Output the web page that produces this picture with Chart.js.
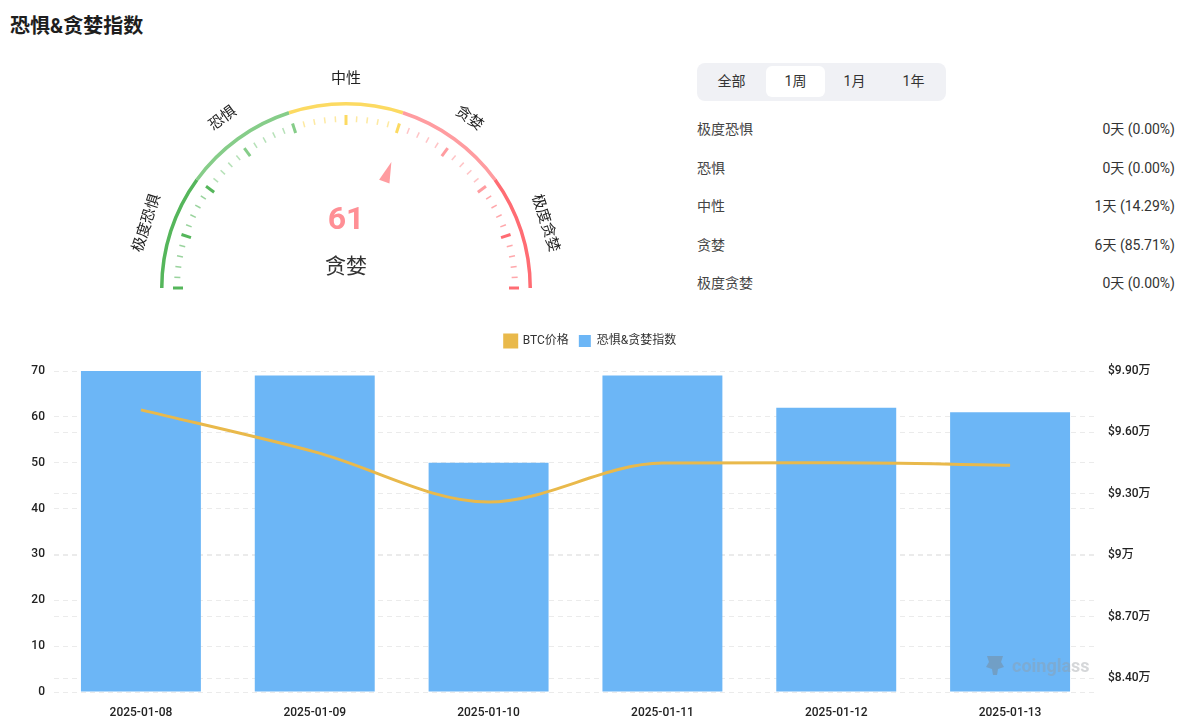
<!DOCTYPE html>
<html>
<head>
<meta charset="utf-8">
<script src="https://cdn.jsdelivr.net/npm/chart.js@4.4.1/dist/chart.umd.min.js"></script>
<style>
  body { margin: 0; width: 1181px; height: 720px; background: #fff; position: relative; overflow: hidden;
    font-family: Roboto, "Noto Sans CJK SC", sans-serif; color: #333; }
  .title { position: absolute; left: 10px; top: 12px; font-size: 20px; font-weight: 700; color: #1e1e1e; line-height: 28px; }
  .gauge { position: absolute; left: 46px; top: 55px; width: 600px; height: 280px; }
  .tabs { position: absolute; left: 697px; top: 63px; width: 249px; height: 38px; background: #f0f1f5; border-radius: 8px; }
  .tab { position: absolute; top: 3px; width: 59px; height: 31px; line-height: 31px; text-align: center; font-size: 14px; color: #333; border-radius: 6px; }
  .tab.on { background: #fff; }
  .row { position: absolute; left: 697px; width: 478px; height: 20px; line-height: 20px; font-size: 14px; }
  .row .k { position: absolute; left: 0; color: #444; }
  .row .v { position: absolute; right: 0; color: #333; }
  .main { position: absolute; left: 0; top: 325px; width: 1181px; height: 395px; }
  .mark { position: absolute; left: 983px; top: 653px; height: 24px; display: flex; align-items: center; gap: 5px;
    font-size: 18px; font-weight: 700; color: rgba(150,155,160,0.4); }
</style>
</head>
<body>
<div class="title">恐惧&amp;贪婪指数</div>
<div class="gauge"><canvas id="gauge"></canvas></div>
<div class="tabs" id="tabs"></div>
<div id="table"></div>
<div class="main"><canvas id="main"></canvas></div>
<div class="mark"><svg width="24" height="24" viewBox="0 0 24 24"><path d="M4 3h16l-2 6 3 5-6 2-1 6h-4l-1-6-6-2 3-5z" fill="rgba(120,130,140,0.45)"/></svg><span>coinglass</span></div>
<script>
// gauge
const zoneNames = ['极度恐惧', '恐惧', '中性', '贪婪', '极度贪婪'];
const zoneSizes = [20, 20, 20, 20, 20];
const zoneColors = ['#55b65b', '#86cd89', '#fcda62', '#ff9ca0', '#ff6c73'];
const currentValue = 61;
const currentName = '贪婪';

// range buttons + day counts per zone
const tabNames = ['全部', '1周', '1月', '1年'];
const activeTab = 1;
const zoneDays = [0, 0, 1, 6, 0];
const zonePercents = ['0.00%', '0.00%', '14.29%', '85.71%', '0.00%'];

// history chart
const dates = ['2025-01-08', '2025-01-09', '2025-01-10', '2025-01-11', '2025-01-12', '2025-01-13'];
const fearGreed = [70, 69, 50, 69, 62, 61];
const btcPrice = [97100, 95050, 92600, 94500, 94520, 94400];
const indexTicks = [0, 10, 20, 30, 40, 50, 60, 70];
const priceTicks = [84000, 87000, 90000, 93000, 96000, 99000];

const FONT = 'Roboto, "Noto Sans CJK SC", sans-serif';
Chart.defaults.font.family = FONT;
Chart.defaults.color = '#333';

const tabsEl = document.getElementById('tabs');
const tabLeft = [5, 69, 128, 187];
tabNames.forEach((t, i) => {
  const d = document.createElement('div');
  d.className = 'tab' + (i === activeTab ? ' on' : '');
  d.style.left = tabLeft[i] + 'px';
  d.textContent = t;
  tabsEl.appendChild(d);
});

const tableEl = document.getElementById('table');
zoneNames.forEach((n, i) => {
  const r = document.createElement('div');
  r.className = 'row';
  r.style.top = (119 + i * 38.5) + 'px';
  r.innerHTML = '<span class="k">' + n + '</span><span class="v">' + zoneDays[i] + '天 (' + zonePercents[i] + ')</span>';
  tableEl.appendChild(r);
});

function zoneIndexOf(v) {
  let acc = 0;
  for (let i = 0; i < zoneSizes.length; i++) {
    acc += zoneSizes[i];
    if (v <= acc) return i;
  }
  return zoneSizes.length - 1;
}

function withAlpha(hex, a) {
  const n = parseInt(hex.slice(1), 16);
  return 'rgba(' + (n >> 16) + ',' + ((n >> 8) & 255) + ',' + (n & 255) + ',' + a + ')';
}

const gaugeDecor = {
  id: 'gaugeDecor',
  afterDatasetsDraw(chart) {
    const arcs = chart.getDatasetMeta(0).data;
    const first = arcs[0];
    const last = arcs[arcs.length - 1];
    const cx = first.x, cy = first.y, R = first.outerRadius;
    const a0 = first.startAngle, a1 = last.endAngle;
    const total = zoneSizes.reduce((s, v) => s + v, 0);
    const angleOf = v => a0 + (a1 - a0) * v / total;
    const ctx = chart.ctx;
    ctx.save();

    // ticks
    for (let v = 0; v <= total; v += 2) {
      const major = v % 10 === 0;
      const a = angleOf(v);
      const col = zoneColors[zoneIndexOf(v)];
      const r1 = major ? R - 23 : R - 20;
      const r2 = major ? R - 13 : R - 14;
      ctx.beginPath();
      ctx.moveTo(cx + Math.cos(a) * r1, cy + Math.sin(a) * r1);
      ctx.lineTo(cx + Math.cos(a) * r2, cy + Math.sin(a) * r2);
      ctx.strokeStyle = major ? col : withAlpha(col, 0.6);
      ctx.lineWidth = major ? 3 : 1.5;
      ctx.stroke();
    }

    // zone labels
    ctx.font = '15px ' + FONT;
    ctx.fillStyle = '#222';
    ctx.textAlign = 'center';
    ctx.textBaseline = 'middle';
    let acc = 0;
    zoneNames.forEach((name, i) => {
      const a = angleOf(acc + zoneSizes[i] / 2);
      acc += zoneSizes[i];
      const lr = R + 23;
      ctx.save();
      ctx.translate(cx + Math.cos(a) * lr, cy + Math.sin(a) * lr);
      ctx.rotate(a + Math.PI / 2);
      ctx.fillText(name, 0, 0);
      ctx.restore();
    });

    // pointer
    const pa = angleOf(currentValue);
    const pc = zoneColors[zoneIndexOf(currentValue)];
    const tip = R - 52, base = R - 73, hw = 5.5;
    const px = Math.cos(pa), py = Math.sin(pa);
    ctx.beginPath();
    ctx.moveTo(cx + px * tip, cy + py * tip);
    ctx.lineTo(cx + px * base - py * hw, cy + py * base + px * hw);
    ctx.lineTo(cx + px * base + py * hw, cy + py * base - px * hw);
    ctx.closePath();
    ctx.fillStyle = pc;
    ctx.fill();

    // value
    ctx.fillStyle = '#ff8f95';
    ctx.font = '700 32px ' + FONT;
    ctx.fillText(String(currentValue), cx, cy - 67);
    ctx.fillStyle = '#333';
    ctx.font = '21px ' + FONT;
    ctx.fillText(currentName, cx, cy - 20);
    ctx.restore();
  }
};

new Chart(document.getElementById('gauge'), {
  type: 'doughnut',
  data: {
    labels: zoneNames,
    datasets: [{
      data: zoneSizes,
      backgroundColor: zoneColors,
      borderWidth: 0
    }]
  },
  options: {
    responsive: true,
    maintainAspectRatio: false,
    animation: false,
    rotation: -90,
    circumference: 180,
    radius: 186,
    cutout: '98.1%',
    layout: { padding: 0 },
    plugins: { legend: { display: false }, tooltip: { enabled: false } }
  },
  plugins: [gaugeDecor]
});

function wan(v) {
  if (v % 10000 === 0) return '$' + (v / 10000) + '万';
  return '$' + (v / 10000).toFixed(2) + '万';
}

const legendGap = {
  id: 'legendGap',
  beforeInit(chart) {
    const fit = chart.legend.fit;
    chart.legend.fit = function () {
      fit.bind(chart.legend)();
      this.height += 14;
    };
  }
};

new Chart(document.getElementById('main'), {
  type: 'bar',
  data: {
    labels: dates,
    datasets: [
      {
        type: 'line',
        label: 'BTC价格',
        data: btcPrice,
        yAxisID: 'y1',
        borderColor: '#e9b94b',
        backgroundColor: '#e9b94b',
        borderWidth: 3,
        pointRadius: 0,
        cubicInterpolationMode: 'monotone',
        fill: false,
        order: 0
      },
      {
        label: '恐惧&贪婪指数',
        data: fearGreed,
        yAxisID: 'y',
        backgroundColor: '#6cb6f6',
        borderWidth: 0,
        categoryPercentage: 1,
        barPercentage: 0.69,
        order: 1
      }
    ]
  },
  options: {
    responsive: true,
    maintainAspectRatio: false,
    animation: false,
    layout: { padding: { top: 0 } },
    plugins: {
      legend: {
        labels: {
          boxWidth: 12,
          boxHeight: 12,
          padding: 10,
          color: '#333',
          font: { size: 12 }
        }
      },
      tooltip: { enabled: false }
    },
    scales: {
      x: {
        grid: { display: false },
        border: { display: false },
        ticks: { color: '#222', font: { size: 12, weight: '500' }, padding: 6 },
        afterFit(scale) { scale.height = 28; }
      },
      y: {
        position: 'left',
        min: 0,
        max: 70,
        afterBuildTicks(scale) { scale.ticks = indexTicks.map(v => ({ value: v })); },
        grid: { color: '#ebebeb', lineWidth: 1, tickLength: 0 },
        border: { display: false, dash: [5, 4] },
        ticks: { color: '#222', font: { size: 12, weight: '500' }, padding: 9 },
        afterFit(scale) { scale.width = 54; }
      },
      y1: {
        position: 'right',
        min: 83320,
        max: 99000,
        afterBuildTicks(scale) { scale.ticks = priceTicks.map(v => ({ value: v })); },
        grid: { color: '#ebebeb', lineWidth: 1, tickLength: 0 },
        border: { display: false, dash: [5, 4] },
        ticks: { color: '#222', font: { size: 12, weight: '500' }, padding: 11, callback: v => wan(v) },
        afterFit(scale) { scale.width = 84; }
      }
    }
  },
  plugins: [legendGap]
});
</script>
</body>
</html>
